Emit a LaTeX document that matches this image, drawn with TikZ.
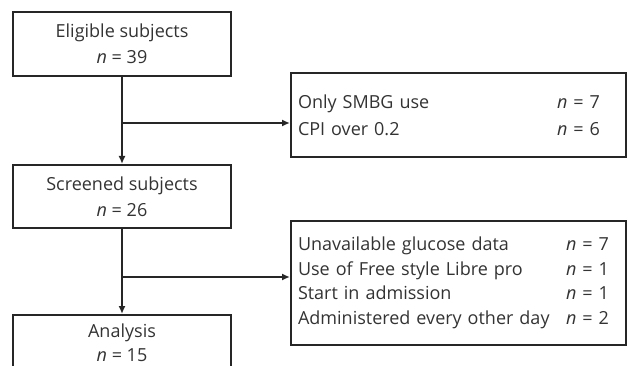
\documentclass[tikz,border=0pt]{standalone}
\usepackage{fontspec}
\setmainfont{Open Sans}
\usetikzlibrary{arrows.meta}
\tikzset{
  box/.style={draw=black!85,line width=2pt,text=black!80,inner sep=0pt,align=center,minimum width=218pt},
  excl/.style={draw=black!85,line width=2pt,text=black!80,inner xsep=7pt,inner ysep=0pt,text width=321pt,align=left},
  flow/.style={draw=black!85,line width=2pt,-{Latex[length=8pt,width=7pt]}}
}
\newcommand{\crow}[3]{\makebox[#1][l]{#2}\textit{n} = #3}
\begin{document}
\begin{tikzpicture}[x=1pt,y=-1pt,font=\fontsize{18}{25.5}\selectfont]
\clip(0,0)rectangle(628,366);
\node[box,minimum height=64pt](elig)at(122,44){Eligible subjects\\\textit{n} = 39};
\node[box,minimum height=63pt](scr)at(122,196.5){Screened subjects\\\textit{n} = 26};
\node[box,minimum height=56pt,font=\fontsize{18}{24}\selectfont](ana)at(122,343){Analysis\\\textit{n} = 15};
\node[excl,minimum height=84pt,font=\fontsize{18}{27}\selectfont](ex1)at(458.5,115)
{\crow{259pt}{Only SMBG use}{7}\\\crow{259pt}{CPI over 0.2}{6}};
\node[excl,minimum height=124pt,font=\fontsize{18}{24.5}\selectfont](ex2)at(458.5,283)
{\crow{268pt}{Unavailable glucose data}{7}\\\crow{268pt}{Use of Free style Libre pro}{1}\\
\crow{268pt}{Start in admission}{1}\\\crow{268pt}{Administered every other day}{2}};
% flow
\draw[flow](elig)--(scr);
\coordinate(b1)at(122,123);
\draw[flow](b1)--(b1-|ex1.west);
\draw[flow](scr)--(ana);
\coordinate(b2)at(122,277);
\draw[flow](b2)--(b2-|ex2.west);
\end{tikzpicture}
\end{document}
